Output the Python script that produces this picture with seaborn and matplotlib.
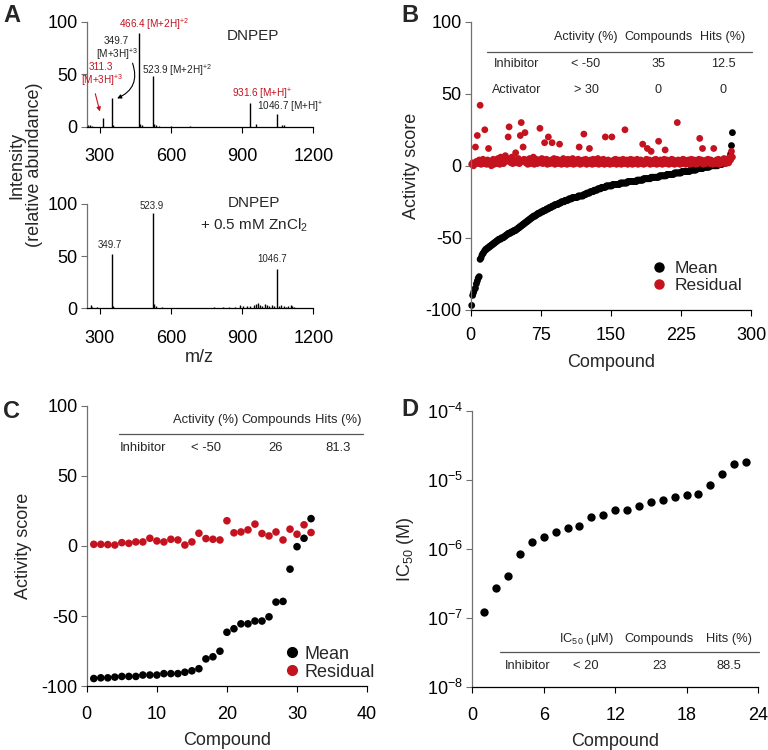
import numpy as np
import pandas as pd
import matplotlib
matplotlib.use('Agg')
import matplotlib.pyplot as plt
import seaborn as sns
from matplotlib.lines import Line2D
from matplotlib.ticker import NullLocator, LogLocator

sns.set_style('ticks')
plt.rcParams['font.family'] = ['Liberation Sans', 'DejaVu Sans']
plt.rcParams['mathtext.fontset'] = 'custom'
plt.rcParams['mathtext.rm'] = 'Liberation Sans'
plt.rcParams['mathtext.it'] = 'Liberation Sans:italic'
plt.rcParams['mathtext.bf'] = 'Liberation Sans:bold'
plt.rcParams['axes.unicode_minus'] = False

RED = '#C4121F'

# ---------------- data ----------------
# Panel A: mass spectra (m/z, relative abundance)
specA1_mz = [252, 258, 265, 311.3, 349.7, 356, 466.4, 471, 478, 523.9, 529, 536, 548,
             600, 680, 931.6, 958, 1046.7, 1068, 1075]
specA1_int = [2, 1.5, 1, 8, 27, 2, 89, 3, 1.5, 48.6, 3, 1.5, 1,
              0.6, 0.8, 23, 2.5, 12.4, 2, 1.5]
specA2_mz = [262, 268, 290, 349.7, 356, 523.9, 529, 536, 560, 640, 700, 780, 820, 845,
             868, 890, 905, 920, 935, 948, 958, 965, 975, 985, 995, 1005, 1015, 1025,
             1035, 1046.7, 1055, 1065, 1075, 1085, 1095, 1105, 1112, 1120]
specA2_int = [3, 1.5, 1, 52, 2, 91, 4, 2, 0.8, 0.6, 0.6, 0.8, 1.5, 1,
              1.5, 3.5, 2, 2.5, 2, 3, 4, 5, 3, 2.5, 4, 3, 2, 3,
              2.5, 38, 2, 3, 2, 1.5, 2.5, 3.5, 2.5, 1.5]

# Panel B: primary screen, 280 compounds sorted by mean activity
B_mean = [
    -97, -90, -88, -86, -85, -82, -80, -78, -77, -65,
    -64, -62, -61, -60, -59, -58, -58, -57, -57, -56,
    -56, -55, -55, -54, -54, -53, -53, -52, -52, -51,
    -51, -51, -50, -50, -50, -49, -49, -48, -48, -47,
    -47, -47, -46, -46, -46, -45, -45, -45, -44, -44,
    -43, -43, -42, -42, -41, -41, -40, -40, -39, -39,
    -38, -38, -37, -37, -36, -36, -35, -35, -35, -34,
    -34, -33, -33, -33, -32, -32, -32, -31, -31, -31,
    -30, -30, -30, -29, -29, -29, -28, -28, -28, -27,
    -27, -27, -27, -26, -26, -26, -25, -25, -25, -25,
    -24, -24, -24, -24, -23, -23, -23, -23, -22, -22,
    -22, -22, -22, -22, -21, -21, -21, -21, -21, -21,
    -20, -20, -20, -19, -19, -19, -19, -18, -18, -18,
    -18, -17, -17, -17, -17, -16, -16, -16, -16, -15,
    -15, -15, -15, -15, -14, -14, -14, -14, -14, -14,
    -14, -13, -13, -13, -13, -13, -13, -13, -13, -12,
    -12, -12, -12, -12, -12, -12, -12, -11, -11, -11,
    -11, -11, -11, -11, -11, -11, -11, -10, -10, -10,
    -10, -10, -10, -10, -9, -9, -9, -9, -9, -9,
    -9, -9, -8, -8, -8, -8, -8, -8, -8, -8,
    -8, -7, -7, -7, -7, -7, -7, -7, -7, -6,
    -6, -6, -6, -6, -6, -6, -6, -5, -5, -5,
    -5, -5, -5, -5, -5, -4, -4, -4, -4, -4,
    -4, -4, -4, -4, -3, -3, -3, -3, -3, -3,
    -3, -2, -2, -2, -2, -2, -2, -2, -1, -1,
    -1, -1, -1, -1, -1, 0, 0, 0, 0, 0,
    0, 0, 0, 0, 1, 1, 1, 1, 1, 2,
    2, 2, 2, 3, 3, 4, 5, 8, 14, 23]
B_resid = [
    1, 2, 0, 1.5, 13, 3, 21, 1.5, 4, 42, 1, 2, 4.5, 1.5, 25, 3, 1, 4, 12, 2,
    1.5, 0, 3, 4.5, 1, 2, 4, 1.5, 5, 3, 1, 6, 2, 4, 1.5, 4.5, 7, 3, 5, 20,
    27, 4, 2, 6, 1.5, 4.5, 3, 9, 2, 4, 5, 1.5, 21, 30, 3, 13, 4.5, 23, 2, 4,
    1, 3, 5, 1.5, 4, 2, 6, 1, 3, 4.5, 1.5, 4, 2, 26, 3, 5, 1.5, 4, 16, 2,
    4.5, 1, 20, 3, 1.5, 4, 16, 2, 5, 1, 3, 4.5, 1.5, 4, 15, 2, 1, 3, 5, 1.5,
    4, 2, 1, 4.5, 3, 1.5, 4, 2, 5, 1, 3, 1.5, 4, 2, 4.5, 13, 1, 3, 1.5, 4,
    22, 2, 4.5, 1, 3, 1.5, 12, 4, 2, 1, 4.5, 3, 1.5, 4, 2, 5, 1, 3, 1.5, 4,
    2, 4.5, 1, 20, 3, 1.5, 4, 2, 1, 3, 20, 1.5, 4, 2, 4.5, 1, 3, 1.5, 4, 2,
    1, 3, 4.5, 1.5, 25, 2, 4, 1, 3, 1.5, 4.5, 2, 1, 4, 1.5, 3, 2, 4.5, 1, 3,
    1.5, 4, 2, 15, 1, 3, 1.5, 4.5, 12, 2, 4, 1, 10, 3, 1.5, 4, 2, 4.5, 1, 3,
    17, 1.5, 4, 2, 1, 3, 4.5, 11, 1.5, 4, 2, 1, 3, 1.5, 4.5, 2, 4, 1, 3, 1.5,
    30, 4, 2, 1, 3, 1.5, 4.5, 2, 4, 1, 3, 1.5, 4, 2, 1, 4.5, 3, 1.5, 4, 2,
    1, 3, 1.5, 4.5, 19, 2, 4, 12, 1, 3, 1.5, 4, 2, 4.5, 3, 1.5, 4, 2, 1, 12,
    3, 1.5, 4, 2, 4.5, 1, 3, 1.5, 4, 2, 5, 3, 1.5, 4, 4.5, 2, 6, 4, 10, 6]

# Panel C: confirmation screen, 32 compounds
C_mean = [-94.5, -94, -94, -93.5, -93, -93, -93, -92, -92, -92,
          -91, -91, -91, -90, -89, -87.5, -80.5, -79, -75, -61.5,
          -59, -55.5, -55.5, -53.5, -53.5, -50.5, -40, -39.5, -16.5, -0.5,
          5.5, 19.5]
C_resid = [1.2, 1.2, 1, 0.7, 2.4, 1.9, 2.9, 2.9, 5.5, 3.6,
           2.9, 4.8, 4.3, 0.7, 2.9, 9.1, 5.3, 4.8, 4.3, 18,
           9.4, 10, 11.5, 15.6, 8.9, 7.2, 10, 4.3, 12, 8.4,
           15.1, 9.6]

# Panel D: IC50 (M), 23 compounds
D_ic50 = [1.23e-7, 2.7e-7, 4.1e-7, 8.4e-7, 1.28e-6, 1.48e-6, 1.76e-6, 2.0e-6,
          2.18e-6, 2.94e-6, 3.1e-6, 3.67e-6, 3.67e-6, 4.2e-6, 4.75e-6, 5.1e-6,
          5.7e-6, 6.1e-6, 6.3e-6, 8.5e-6, 1.23e-5, 1.7e-5, 1.84e-5]

# tables
B_header = ['Activity (%)', 'Compounds', 'Hits (%)']
B_rows = [['Inhibitor', '< -50', '35', '12.5'],
          ['Activator', '> 30', '0', '0']]
C_header = ['Activity (%)', 'Compounds', 'Hits (%)']
C_rows = [['Inhibitor', '< -50', '26', '81.3']]
D_header = ['IC$_{50}$ (μM)', 'Compounds', 'Hits (%)']
D_rows = [['Inhibitor', '< 20', '23', '88.5']]

# ---------------- figure ----------------
fig = plt.figure(figsize=(7.68, 7.5), dpi=100)

TICK_FS = 13
LABEL_FS = 13


def style_axes(ax, xpad=10):
    sns.despine(ax=ax)
    ax.spines['left'].set_color('#707070')
    ax.spines['left'].set_linewidth(0.9)
    ax.spines['bottom'].set_linewidth(0.9)
    ax.spines['bottom'].set_color('black')
    ax.tick_params(axis='both', direction='out', length=4.5, width=0.8,
                   labelsize=TICK_FS, colors='black')
    ax.tick_params(axis='y', pad=2, color='#707070')
    ax.tick_params(axis='x', pad=xpad)
    ax.set_facecolor('none')


def draw_table(ax, header, rows, xcols, yhead, yline, yrows, xline, fs=9.5):
    for x, t in zip(xcols[1:], header):
        ax.text(x, yhead, t, transform=ax.transAxes, ha='center', va='center', fontsize=fs)
    ax.plot(xline, [yline, yline], transform=ax.transAxes, color='#555555', lw=0.9,
            clip_on=False)
    for y, row in zip(yrows, rows):
        for x, t in zip(xcols, row):
            ax.text(x, y, t, transform=ax.transAxes, ha='center', va='center', fontsize=fs)


# ---- Panel A top
axA1 = fig.add_axes([0.113, 0.831, 0.295, 0.140])
axA1.vlines(specA1_mz, 0, specA1_int, color='black', lw=1.0)
axA1.set_xlim(245, 1200)
axA1.set_ylim(0, 100)
axA1.set_xticks([300, 600, 900, 1200])
axA1.set_yticks([0, 50, 100])
style_axes(axA1, xpad=11)
afs = 7.2
axA1.text(530, 98, '466.4 [M+2H]$^{+2}$', color=RED, ha='center', va='center', fontsize=afs)
axA1.text(370, 82, '349.7', ha='center', va='center', fontsize=afs)
axA1.text(372, 69.5, '[M+3H]$^{+3}$', ha='center', va='center', fontsize=afs)
axA1.text(304, 57, '311.3', color=RED, ha='center', va='center', fontsize=afs)
axA1.text(309, 44.5, '[M+3H]$^{+3}$', color=RED, ha='center', va='center', fontsize=afs)
axA1.text(478, 54, '523.9 [M+2H]$^{+2}$', ha='left', va='center', fontsize=afs)
axA1.text(856, 31, '931.6 [M+H]$^{+}$', color=RED, ha='left', va='center', fontsize=afs)
axA1.text(962, 18, '1046.7 [M+H]$^{+}$', ha='left', va='center', fontsize=afs)
axA1.text(947, 86, 'DNPEP', ha='center', va='center', fontsize=11)
axA1.annotate('', xy=(303, 12), xytext=(278, 34),
              arrowprops=dict(arrowstyle='-|>', color=RED, lw=0.8, mutation_scale=6))
axA1.annotate('', xy=(362, 26), xytext=(434, 63),
              arrowprops=dict(arrowstyle='-|>', color='black', lw=0.8, mutation_scale=6,
                              connectionstyle='arc3,rad=-0.5'))

# ---- Panel A bottom
axA2 = fig.add_axes([0.113, 0.589, 0.295, 0.139])
axA2.vlines(specA2_mz, 0, specA2_int, color='black', lw=1.0)
axA2.set_xlim(245, 1200)
axA2.set_ylim(0, 100)
axA2.set_xticks([300, 600, 900, 1200])
axA2.set_yticks([0, 50, 100])
style_axes(axA2, xpad=11)
axA2.text(519, 98, '523.9', ha='center', va='center', fontsize=7)
axA2.text(340, 60.5, '349.7', ha='center', va='center', fontsize=7)
axA2.text(1027, 47, '1046.7', ha='center', va='center', fontsize=7)
axA2.text(948, 101, 'DNPEP', ha='center', va='center', fontsize=11)
axA2.text(950, 80, '+ 0.5 mM ZnCl$_2$', ha='center', va='center', fontsize=11)
fig.text(0.033, 0.78, 'Intensity\n(relative abundance)', rotation=90, ha='center',
         va='center', fontsize=LABEL_FS, linespacing=1.05)
fig.text(0.26, 0.523, 'm/z', ha='center', va='center', fontsize=LABEL_FS)

# ---- Panel B
axB = fig.add_axes([0.613, 0.587, 0.365, 0.384])
nB = len(B_mean)
dfB = pd.DataFrame({
    'Compound': list(range(1, nB + 1)) * 2,
    'Activity score': B_mean + B_resid,
    'Series': ['Mean'] * nB + ['Residual'] * nB,
})
sns.scatterplot(data=dfB, x='Compound', y='Activity score', hue='Series',
                palette={'Mean': 'black', 'Residual': RED}, s=24, linewidth=0,
                legend=False, ax=axB, clip_on=False)
axB.set_xlim(0, 300)
axB.set_ylim(-100, 100)
axB.set_xticks([0, 75, 150, 225, 300])
axB.set_yticks([-100, -50, 0, 50, 100])
style_axes(axB, xpad=8)
axB.set_xlabel('Compound', fontsize=LABEL_FS, labelpad=7)
axB.set_ylabel('Activity score', fontsize=LABEL_FS, labelpad=4)
draw_table(axB, B_header, B_rows, [0.164, 0.411, 0.668, 0.9], 0.948, 0.896,
           [0.854, 0.764], [0.057, 1.004], fs=9.1)
hB = [Line2D([], [], marker='o', ls='', color='black', markersize=6.5),
      Line2D([], [], marker='o', ls='', color=RED, markersize=6.5)]
axB.legend(hB, ['Mean', 'Residual'], loc='center left', bbox_to_anchor=(0.64, 0.113),
           frameon=False, fontsize=12.5, handlelength=1, handletextpad=0.4,
           labelspacing=0.1, borderpad=0, borderaxespad=0)

# ---- Panel C
axC = fig.add_axes([0.113, 0.085, 0.365, 0.374])
nC = len(C_mean)
dfC = pd.DataFrame({
    'Compound': list(range(1, nC + 1)) * 2,
    'Activity score': C_resid + C_mean,
    'Series': ['Residual'] * nC + ['Mean'] * nC,
})
sns.scatterplot(data=dfC, x='Compound', y='Activity score', hue='Series',
                palette={'Mean': 'black', 'Residual': RED}, s=30, linewidth=0,
                legend=False, ax=axC, clip_on=False)
axC.set_xlim(0, 40)
axC.set_ylim(-100, 100)
axC.set_xticks([0, 10, 20, 30, 40])
axC.set_yticks([-100, -50, 0, 50, 100])
style_axes(axC, xpad=10)
axC.set_xlabel('Compound', fontsize=LABEL_FS, labelpad=6.5)
axC.set_ylabel('Activity score', fontsize=LABEL_FS, labelpad=7)
draw_table(axC, C_header, C_rows, [0.2, 0.425, 0.675, 0.896], 0.9475, 0.899,
           [0.851], [0.114, 0.985], fs=9.4)
hC = [Line2D([], [], marker='o', ls='', color='black', markersize=7),
      Line2D([], [], marker='o', ls='', color=RED, markersize=7)]
axC.legend(hC, ['Mean', 'Residual'], loc='center left', bbox_to_anchor=(0.70, 0.082),
           frameon=False, fontsize=13, handlelength=1, handletextpad=0.2,
           labelspacing=0.05, borderpad=0, borderaxespad=0)

# ---- Panel D
axD = fig.add_axes([0.615, 0.084, 0.372, 0.368])
dfD = pd.DataFrame({'Compound': list(range(1, len(D_ic50) + 1)), 'IC50': D_ic50})
sns.scatterplot(data=dfD, x='Compound', y='IC50', color='black', s=36, linewidth=0,
                ax=axD, clip_on=False)
axD.set_yscale('log')
axD.set_ylim(1e-8, 1e-4)
axD.set_xlim(0, 24)
axD.set_xticks([0, 6, 12, 18, 24])
axD.yaxis.set_major_locator(LogLocator(base=10, numticks=10))
axD.yaxis.set_minor_locator(NullLocator())
style_axes(axD, xpad=10)
axD.set_xlabel('Compound', fontsize=LABEL_FS, labelpad=6.5)
axD.set_ylabel('IC$_{50}$ (M)', fontsize=LABEL_FS, labelpad=8)
draw_table(axD, D_header, D_rows, [0.193, 0.398, 0.654, 0.899], 0.174, 0.128,
           [0.076], [0.097, 1.003], fs=9.3)

# panel letters
for x, y, t in [(0.004, 0.995, 'A'), (0.522, 0.995, 'B'), (0.004, 0.466, 'C'),
                (0.522, 0.47, 'D')]:
    fig.text(x, y, t, ha='left', va='top', fontsize=17, fontweight='bold')

fig.savefig('out.png', dpi=100)
